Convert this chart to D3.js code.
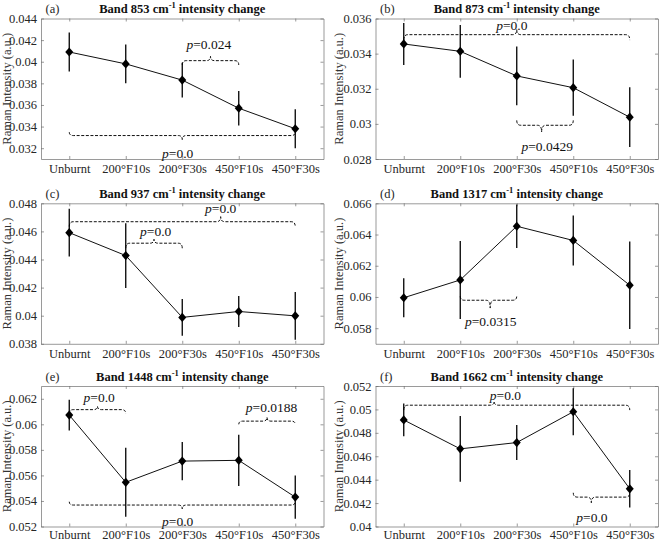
<!DOCTYPE html>
<html>
<head>
<meta charset="utf-8">
<script src="https://cdn.jsdelivr.net/npm/d3@7"></script>
</head>
<body style="margin:0; background:#fff">
<script>
// Six small panels: Raman band intensity vs. burn condition
// ---------------------------------------------------------

var categories = ["Unburnt", "200°F10s", "200°F30s", "450°F10s", "450°F30s"];
var letters = ["a", "b", "c", "d", "e", "f"];
var bands = ["853", "873", "937", "1317", "1448", "1662"];

// mean intensity and error (half bar) per band
var mean853 = [0.0409, 0.0398, 0.0383, 0.0357, 0.0338];
var err853 = [0.0018, 0.0018, 0.0016, 0.0016, 0.0018];
var mean873 = [0.03455, 0.03413, 0.03273, 0.03206, 0.03038];
var err873 = [0.0012, 0.0015, 0.00167, 0.0016, 0.0017];
var mean937 = [0.04591, 0.04428, 0.03988, 0.0403, 0.03999];
var err937 = [0.0017, 0.0023, 0.0013, 0.0011, 0.0017];
var mean1317 = [0.05995, 0.06109, 0.06453, 0.06362, 0.06075];
var err1317 = [0.00125, 0.0025, 0.0014, 0.0016, 0.0028];
var mean1448 = [0.06072, 0.05546, 0.05712, 0.05718, 0.0543];
var err1448 = [0.0012, 0.0027, 0.0015, 0.002, 0.0017];
var mean1662 = [0.0491, 0.04663, 0.04717, 0.0498, 0.04322];
var err1662 = [0.0014, 0.0028, 0.0015, 0.002, 0.0016];

// y limits and tick values
var domains = [[0.031, 0.044], [0.028, 0.036], [0.038, 0.048], [0.057, 0.066], [0.052, 0.063], [0.04, 0.052]];
var ticks853 = [0.032, 0.034, 0.036, 0.038, 0.04, 0.042, 0.044];
var ticks873 = [0.028, 0.03, 0.032, 0.034, 0.036];
var ticks937 = [0.038, 0.04, 0.042, 0.044, 0.046, 0.048];
var ticks1317 = [0.058, 0.06, 0.062, 0.064, 0.066];
var ticks1448 = [0.052, 0.054, 0.056, 0.058, 0.06, 0.062];
var ticks1662 = [0.04, 0.042, 0.044, 0.046, 0.048, 0.05, 0.052];

// significance braces: categories spanned, line / end / tip levels, label
var braces853 = [
  { from: 3, to: 4, y: 0.0401, end: 0.0397, tip: 0.0405, f: 0.5, p: "0.024", lf: 0.47, ly: 0.0416 },
  { from: 1, to: 5, y: 0.03317, end: 0.03348, tip: 0.0328, f: 0.5, p: "0.0", lf: 0.48, ly: 0.0315 }
];
var braces873 = [
  { from: 1, to: 5, y: 0.03508, end: 0.03477, tip: 0.03537, f: 0.5, p: "0.0", lf: 0.478, ly: 0.0356 },
  { from: 3, to: 4, y: 0.02992, end: 0.0302, tip: 0.02954, f: 0.44, p: "0.0429", lf: 0.54, ly: 0.02873 }
];
var braces937 = [
  { from: 1, to: 5, y: 0.04669, end: 0.04634, tip: 0.04705, f: 0.67, p: "0.0", lf: 0.67, ly: 0.04765 },
  { from: 2, to: 3, y: 0.04516, end: 0.0448, tip: 0.04544, f: 0.5, p: "0.0", lf: 0.53, ly: 0.04598 }
];
var braces1317 = [
  { from: 2, to: 3, y: 0.05979, end: 0.06005, tip: 0.05929, f: 0.53, p: "0.0315", lf: 0.54, ly: 0.05847 }
];
var braces1448 = [
  { from: 1, to: 2, y: 0.06115, end: 0.06084, tip: 0.0614, f: 0.5, p: "0.0", lf: 0.53, ly: 0.0621 },
  { from: 4, to: 5, y: 0.06025, end: 0.06, tip: 0.06055, f: 0.5, p: "0.0188", lf: 0.58, ly: 0.06133 },
  { from: 1, to: 5, y: 0.05368, end: 0.05394, tip: 0.05338, f: 0.5, p: "0.0", lf: 0.48, ly: 0.05238 }
];
var braces1662 = [
  { from: 1, to: 5, y: 0.05036, end: 0.04994, tip: 0.0507, f: 0.4, p: "0.0", lf: 0.45, ly: 0.05121 },
  { from: 4, to: 5, y: 0.04251, end: 0.04288, tip: 0.04203, f: 0.32, p: "0.0", lf: 0.33, ly: 0.04081 }
];

var panels = [
  { mean: mean853, err: err853, ticks: ticks853, braces: braces853 },
  { mean: mean873, err: err873, ticks: ticks873, braces: braces873 },
  { mean: mean937, err: err937, ticks: ticks937, braces: braces937 },
  { mean: mean1317, err: err1317, ticks: ticks1317, braces: braces1317 },
  { mean: mean1448, err: err1448, ticks: ticks1448, braces: braces1448 },
  { mean: mean1662, err: err1662, ticks: ticks1662, braces: braces1662 }
];

var colX = [41, 375.5], rowY = [18.5, 203.3, 386];
var pw = 282.5, ph = 140.5;
var axisColor = "#6e6e6e";
var serif = "'Liberation Serif', 'Times New Roman', serif";

var svg = d3.select("body").append("svg")
  .attr("width", 659)
  .attr("height", 541)
  .style("font-family", serif);

function fmt(v) { return String(+v.toFixed(3)); }

// curly brace, dashed, tip at fraction f along the span
function bracePath(x1, x2, xt, yl, ye, yt) {
  var r = 4;
  return "M" + x1 + "," + ye +
    " Q" + x1 + "," + yl + " " + (x1 + r) + "," + yl +
    " L" + (xt - r) + "," + yl +
    " Q" + xt + "," + yl + " " + xt + "," + yt +
    " Q" + xt + "," + yl + " " + (xt + r) + "," + yl +
    " L" + (x2 - r) + "," + yl +
    " Q" + x2 + "," + yl + " " + x2 + "," + ye;
}

panels.forEach(function (p, i) {
  var g = svg.append("g")
    .attr("transform", "translate(" + colX[i % 2] + "," + rowY[Math.floor(i / 2)] + ")");

  var x = d3.scaleLinear().domain([0.5, 5.5]).range([0, pw]);
  var y = d3.scaleLinear().domain(domains[i]).range([ph, 0]);
  var idx = [1, 2, 3, 4, 5];

  // box with inward ticks on all four sides
  var bottom = g.append("g").attr("transform", "translate(0," + ph + ")")
    .call(d3.axisBottom(x).tickValues(idx).tickFormat(function (d) { return categories[d - 1]; })
      .tickSize(-3).tickSizeOuter(0).tickPadding(i > 3 ? 3.5 : 5));
  var top = g.append("g")
    .call(d3.axisTop(x).tickValues(idx).tickFormat("").tickSize(-3).tickSizeOuter(0));
  var left = g.append("g")
    .call(d3.axisLeft(y).tickValues(p.ticks).tickFormat(fmt).tickSize(-3).tickSizeOuter(0).tickPadding(4));
  var right = g.append("g").attr("transform", "translate(" + pw + ",0)")
    .call(d3.axisRight(y).tickValues(p.ticks).tickFormat("").tickSize(-3).tickSizeOuter(0));

  [bottom, top, left, right].forEach(function (a) {
    a.attr("font-family", null).style("font-family", serif);
    a.selectAll("path, line").attr("stroke", axisColor).attr("stroke-width", 0.7);
    a.selectAll("text").attr("font-size", 12.5).attr("fill", "#262626");
  });

  // titles
  g.append("text").attr("x", 4.5).attr("y", -5.5).attr("font-size", 12.5).attr("fill", "#262626")
    .text("(" + letters[i] + ")");
  var t = g.append("text").attr("x", pw / 2).attr("y", -5.5).attr("fill", "#111")
    .attr("text-anchor", "middle").attr("font-size", 12.5).attr("font-weight", "bold");
  t.append("tspan").text("Band " + bands[i] + " cm");
  t.append("tspan").attr("dy", -5).attr("font-size", 8.5).text("-1");
  t.append("tspan").attr("dy", 5).text(" intensity change");

  g.append("text")
    .attr("transform", "translate(" + (i % 2 ? -37 : -34) + "," + (ph / 2) + ") rotate(-90)")
    .attr("text-anchor", "middle").attr("dy", "0.35em").attr("font-size", 12.5)
    .attr("fill", "#333")
    .text("Raman Intensity (a.u.)");

  // braces
  p.braces.forEach(function (b) {
    var x1 = x(b.from), x2 = x(b.to);
    var xt = x1 + (x2 - x1) * b.f;
    g.append("path")
      .attr("d", bracePath(x1, x2, xt, y(b.y), y(b.end), y(b.tip)))
      .attr("fill", "none").attr("stroke", "#111").attr("stroke-width", 1)
      .attr("stroke-dasharray", "3,1.6");
    var lt = g.append("text")
      .attr("x", x1 + (x2 - x1) * b.lf).attr("y", y(b.ly)).attr("fill", "#111")
      .attr("dy", "0.35em").attr("text-anchor", "middle").attr("font-size", 13.5);
    lt.append("tspan").attr("font-style", "italic").text("p");
    lt.append("tspan").text("=" + b.p);
  });

  // error bars, line and diamonds
  g.selectAll(".err").data(p.mean).join("line")
    .attr("x1", function (d, k) { return x(k + 1); })
    .attr("x2", function (d, k) { return x(k + 1); })
    .attr("y1", function (d, k) { return y(d - p.err[k]); })
    .attr("y2", function (d, k) { return y(d + p.err[k]); })
    .attr("stroke", "#000").attr("stroke-width", 1.3);

  g.append("path").datum(p.mean)
    .attr("d", d3.line().x(function (d, k) { return x(k + 1); }).y(function (d) { return y(d); }))
    .attr("fill", "none").attr("stroke", "#111").attr("stroke-width", 1);

  g.selectAll(".mk").data(p.mean).join("path")
    .attr("transform", function (d, k) { return "translate(" + x(k + 1) + "," + y(d) + ")"; })
    .attr("d", "M0,-4.6L4,0L0,4.6L-4,0Z")
    .attr("fill", "#000");
});
</script>
</body>
</html>
